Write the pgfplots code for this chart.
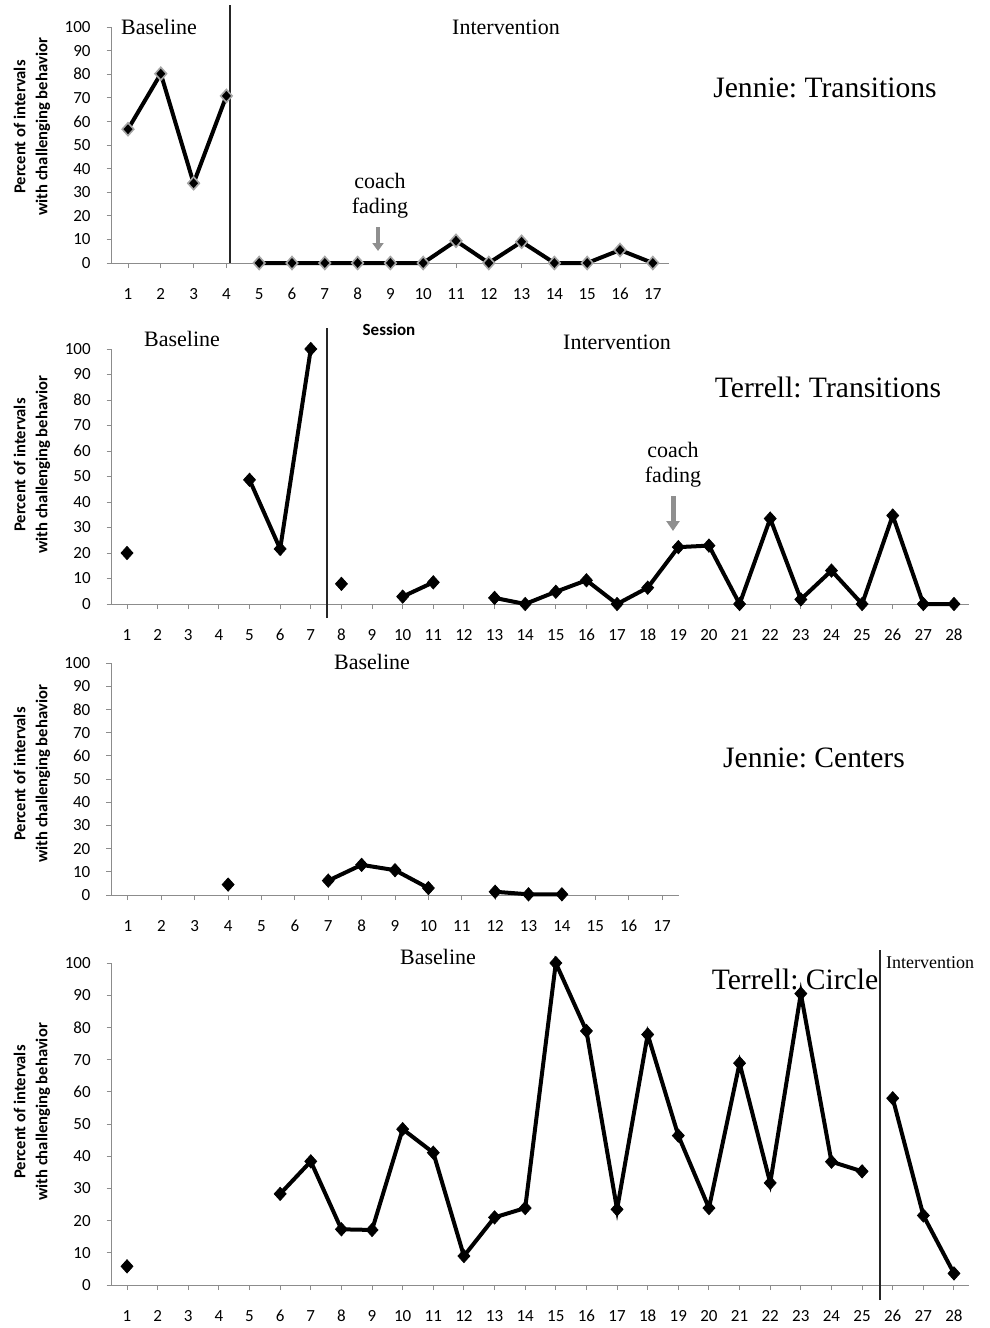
\documentclass[border=0pt]{standalone}
\usepackage{fontspec}
\setmainfont{Liberation Serif}
\newfontfamily\carlito{Carlito}
\usepackage{pgfplots}
\pgfplotsset{compat=1.18}
\usetikzlibrary{arrows.meta}
\frenchspacing

\definecolor{axgray}{HTML}{8C8C8C}
\definecolor{arrowgray}{HTML}{8F8F8F}
\definecolor{phasecol}{HTML}{262626}

\pgfplotsset{
 panel/.style={
  scale only axis,
  anchor=south west,
  axis x line*=bottom,
  axis y line*=left,
  axis line style={draw=axgray, line width=0.5pt},
  every tick/.append style={draw=axgray, line width=0.5pt},
  tick align=outside,
  major tick length=2.5pt,
  ymin=0, ymax=100,
  ytick={0,10,...,100},
  xmin=0.5,
  clip=false,
  ticklabel style={font=\carlito\fontsize{8.5}{10}\selectfont},
  /pgf/number format/assume math mode=true,
  xticklabel style={anchor=center, yshift=-13pt},
  yticklabel style={anchor=east, xshift=-4.5pt},
  unbounded coords=jump,
 },
 dline/.style={black, line width=2pt, mark=diamond*, mark size=3.3pt,
   mark options={fill=black, draw=black, line width=0.4pt, xscale=1.2, solid}},
 dlinegray/.style={black, line width=2pt, mark=diamond*, mark size=3.2pt,
   mark options={fill=black, draw=gray!70, line width=0.8pt, xscale=1.2, solid}},
}
\tikzset{
 phase/.style={draw=phasecol, line width=0.75pt},
 lab/.style={anchor=base, font=\fontsize{11}{13}\selectfont, inner sep=0pt},
 ttl/.style={anchor=base, font=\fontsize{14.8}{17}\selectfont, inner sep=0pt},
 ylab/.style={rotate=90, align=center, inner sep=0pt,
   font=\carlito\bfseries\fontsize{8.3}{11}\selectfont},
}

\begin{document}
\begin{tikzpicture}
\useasboundingbox (0,0) rectangle (495pt,-664pt);

% ---------- Panel 1: Jennie Transitions
\begin{axis}[panel, at={(55.8pt,-131.5pt)}, width=278.8pt, height=118pt,
  xmax=17.5, xtick={1,...,17}]
\addplot[dlinegray] coordinates {(1,56.7) (2,80.2) (3,33.8) (4,70.8)};
\addplot[dlinegray] coordinates {(5,0) (6,0) (7,0) (8,0) (9,0) (10,0) (11,9.4) (12,0) (13,9.0) (14,0) (15,0) (16,5.5) (17,0)};
\draw[phase] (axis cs:4.11,0) -- (axis cs:4.11,109.3);
\end{axis}

% ---------- Panel 2: Terrell Transitions
\begin{axis}[panel, at={(55.85pt,-302pt)}, width=428.8pt, height=127.5pt,
  xmax=28.5, xtick={1,...,28}]
\addplot[dline] coordinates {(1,20.0) (2,nan) (5,48.7) (6,21.6) (7,100)};
\addplot[dline] coordinates {(8,7.9) (9,nan) (10,2.9) (11,8.5) (12,nan) (13,2.4) (14,0) (15,4.8) (16,9.3) (17,0) (18,6.4) (19,22.3) (20,22.9) (21,0) (22,33.5) (23,1.8) (24,13.1) (25,0) (26,34.7) (27,0) (28,0)};
\draw[phase] (axis cs:7.53,-5.5) -- (axis cs:7.53,108.2);
\end{axis}

% ---------- Panel 3: Jennie Centers
\begin{axis}[panel, at={(55.65pt,-447.5pt)}, width=283.7pt, height=116pt,
  xmax=17.5, xtick={1,...,17}]
\addplot[dline] coordinates {(4,4.5) (5,nan) (7,6.2) (8,13.0) (9,10.7) (10,3.0) (11,nan) (12,1.4) (13,0.3) (14,0.3)};
\end{axis}

% ---------- Panel 4: Terrell Circle
\begin{axis}[panel, at={(55.85pt,-642.5pt)}, width=428.8pt, height=161pt,
  xmax=28.5, xtick={1,...,28}]
\addplot[dline] coordinates {(1,5.8) (2,nan) (6,28.3) (7,38.4) (8,17.3) (9,17.1) (10,48.4) (11,41.1) (12,9.0) (13,21.0) (14,23.9) (15,100) (16,78.9) (17,23.5) (18,77.8) (19,46.4) (20,23.9) (21,68.9) (22,31.7) (23,90.5) (24,38.3) (25,35.3)};
\addplot[dline] coordinates {(26,58.0) (27,21.6) (28,3.6)};
\draw[phase] (axis cs:25.58,-4.7) -- (axis cs:25.58,104);
\end{axis}

% ---------- texts
% panel 1
\node[lab] at (79.5pt,-17pt) {Baseline};
\node[lab] at (253pt,-17pt) {Intervention};
\node[ttl] at (412.5pt,-48.5pt) {Jennie: Transitions};
\node[lab] at (190pt,-94pt) {coach};
\node[lab] at (190pt,-106.5pt) {fading};
\draw[arrowgray, line width=2pt, -{Triangle[width=5.5pt,length=4pt]}] (189pt,-113.5pt) -- (189pt,-125.5pt);
\node[ylab] at (16pt,-63.5pt) {Percent of intervals\\with challenging behavior};
\node[anchor=base, inner sep=0pt, font=\carlito\bfseries\fontsize{8.5}{10}\selectfont] at (194.5pt,-167.5pt) {Session};
% panel 2
\node[lab] at (91pt,-173pt) {Baseline};
\node[lab] at (308.5pt,-174.5pt) {Intervention};
\node[ttl] at (414pt,-198.5pt) {Terrell: Transitions};
\node[lab] at (336.5pt,-228.5pt) {coach};
\node[lab] at (336.5pt,-241pt) {fading};
\draw[arrowgray, line width=2.5pt, -{Triangle[width=6.5pt,length=5pt]}] (336.5pt,-248pt) -- (336.5pt,-265.5pt);
\node[ylab] at (16pt,-232.5pt) {Percent of intervals\\with challenging behavior};
% panel 3
\node[lab] at (186pt,-334.5pt) {Baseline};
\node[ttl] at (407pt,-383.5pt) {Jennie: Centers};
\node[ylab] at (16pt,-387pt) {Percent of intervals\\with challenging behavior};
% panel 4
\node[lab] at (219pt,-482pt) {Baseline};
\node[ttl] at (397.5pt,-494.5pt) {Terrell: Circle};
\node[anchor=base, inner sep=0pt, font=\fontsize{9}{11}\selectfont] at (465pt,-484pt) {Intervention};
\node[ylab] at (16pt,-556pt) {Percent of intervals\\with challenging behavior};
\end{tikzpicture}
\end{document}
